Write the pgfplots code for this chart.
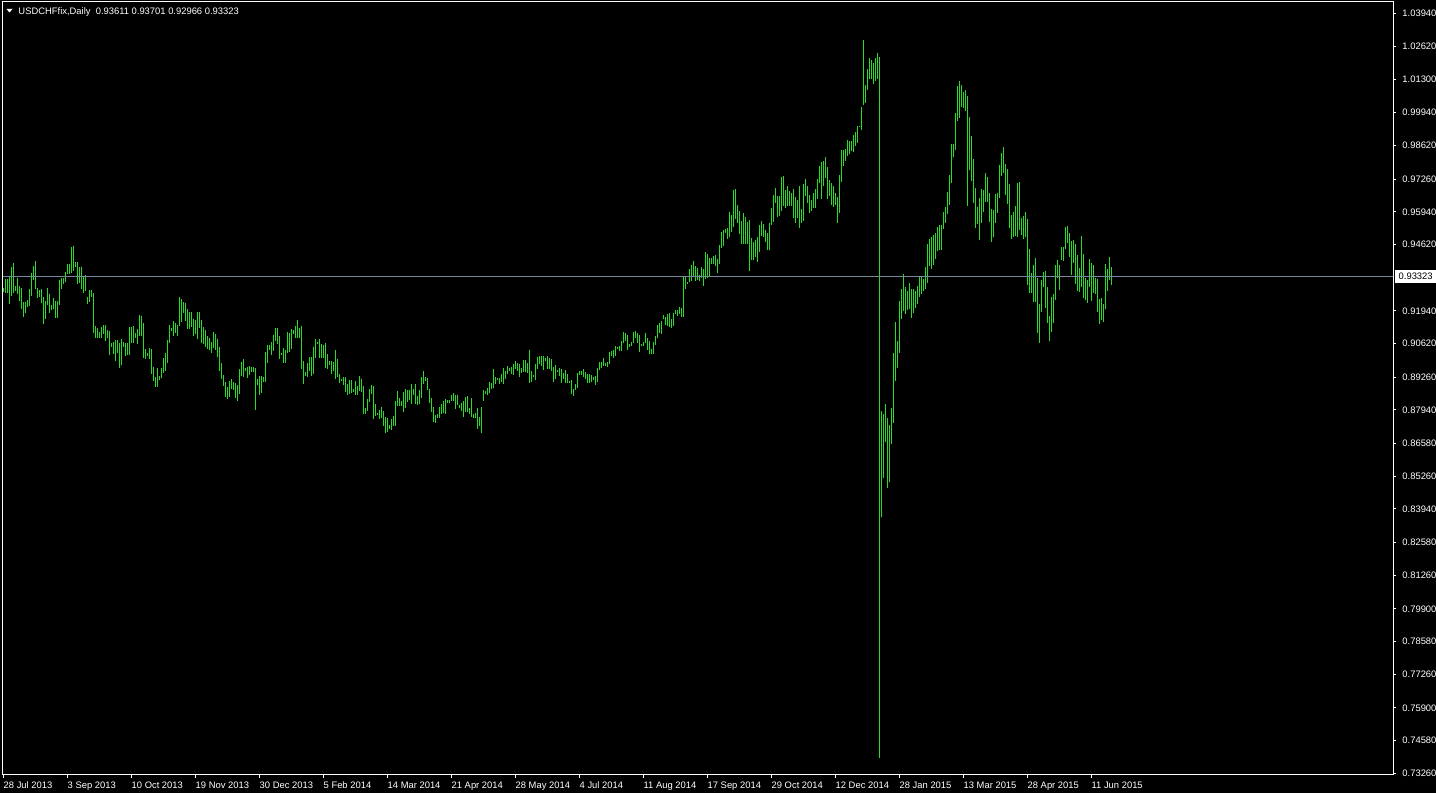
\documentclass[border=0pt]{standalone}
\usepackage{fontspec}
\setmainfont{Liberation Sans}
\usepackage{pgfplots}
\usepackage{pgfplotstable}
\pgfplotsset{compat=1.18}

\definecolor{barcol}{RGB}{40,220,40}
\definecolor{bidline}{RGB}{119,136,153}
\newcommand\mtfont{\fontsize{9.4bp}{11bp}\selectfont}

\begin{document}

% daily bars: index, low, high
\pgfplotstableread{
i lo hi
0 0.9271 0.9287
1 0.9267 0.9323
2 0.9267 0.9323
3 0.9222 0.9336
4 0.9255 0.9372
5 0.9267 0.9388
6 0.9275 0.9295
7 0.9263 0.9328
8 0.9235 0.9295
9 0.9202 0.9287
10 0.9170 0.9231
11 0.9186 0.9231
12 0.9210 0.9239
13 0.9214 0.9283
14 0.9255 0.9348
15 0.9319 0.9376
16 0.9283 0.9396
17 0.9247 0.9287
18 0.9251 0.9279
19 0.9227 0.9283
20 0.9142 0.9251
21 0.9162 0.9235
22 0.9218 0.9287
23 0.9186 0.9263
24 0.9198 0.9218
25 0.9202 0.9247
26 0.9166 0.9235
27 0.9166 0.9235
28 0.9218 0.9319
29 0.9283 0.9328
30 0.9303 0.9328
31 0.9311 0.9352
32 0.9344 0.9384
33 0.9344 0.9384
34 0.9348 0.9453
35 0.9356 0.9457
36 0.9372 0.9392
37 0.9303 0.9392
38 0.9307 0.9372
39 0.9283 0.9372
40 0.9267 0.9336
41 0.9275 0.9340
42 0.9222 0.9251
43 0.9231 0.9279
44 0.9251 0.9279
45 0.9105 0.9267
46 0.9085 0.9134
47 0.9085 0.9125
48 0.9085 0.9109
49 0.9085 0.9130
50 0.9101 0.9138
51 0.9073 0.9138
52 0.9085 0.9117
53 0.9016 0.9113
54 0.9049 0.9065
55 0.9020 0.9069
56 0.8992 0.9077
57 0.9024 0.9077
58 0.8964 0.9065
59 0.8976 0.9081
60 0.9049 0.9069
61 0.9012 0.9065
62 0.9016 0.9065
63 0.9016 0.9130
64 0.9065 0.9130
65 0.9065 0.9134
66 0.9085 0.9105
67 0.9061 0.9121
68 0.9093 0.9178
69 0.9093 0.9174
70 0.9004 0.9146
71 0.9000 0.9041
72 0.9012 0.9024
73 0.9000 0.9045
74 0.8940 0.9041
75 0.8911 0.8968
76 0.8887 0.8928
77 0.8887 0.8964
78 0.8915 0.8932
79 0.8924 0.8964
80 0.8944 0.9004
81 0.8952 0.9024
82 0.8984 0.9077
83 0.9065 0.9138
84 0.9113 0.9125
85 0.9093 0.9154
86 0.9105 0.9146
87 0.9093 0.9138
88 0.9134 0.9251
89 0.9150 0.9243
90 0.9186 0.9231
91 0.9154 0.9227
92 0.9121 0.9202
93 0.9121 0.9190
94 0.9130 0.9190
95 0.9093 0.9162
96 0.9101 0.9158
97 0.9081 0.9190
98 0.9125 0.9190
99 0.9065 0.9158
100 0.9061 0.9130
101 0.9049 0.9117
102 0.9041 0.9093
103 0.9037 0.9085
104 0.9024 0.9069
105 0.9045 0.9109
106 0.9037 0.9101
107 0.9008 0.9081
108 0.8952 0.9049
109 0.8920 0.8984
110 0.8891 0.8936
111 0.8847 0.8907
112 0.8839 0.8887
113 0.8847 0.8911
114 0.8879 0.8920
115 0.8875 0.8907
116 0.8843 0.8903
117 0.8831 0.8895
118 0.8859 0.8960
119 0.8932 0.8988
120 0.8928 0.9000
121 0.8952 0.8964
122 0.8924 0.8968
123 0.8936 0.8972
124 0.8948 0.8968
125 0.8948 0.8968
126 0.8794 0.8964
127 0.8895 0.8920
128 0.8855 0.8932
129 0.8863 0.8932
130 0.8907 0.8928
131 0.8907 0.9028
132 0.8984 0.9057
133 0.9037 0.9057
134 0.9016 0.9069
135 0.9033 0.9097
136 0.9073 0.9125
137 0.9061 0.9125
138 0.9000 0.9093
139 0.9016 0.9024
140 0.8984 0.9045
141 0.8984 0.9037
142 0.9024 0.9109
143 0.9028 0.9105
144 0.9041 0.9121
145 0.9101 0.9117
146 0.9085 0.9134
147 0.9085 0.9158
148 0.9085 0.9125
149 0.8960 0.9134
150 0.8899 0.8992
151 0.8932 0.8948
152 0.8928 0.8984
153 0.8952 0.9008
154 0.8932 0.9008
155 0.8940 0.9049
156 0.9004 0.9081
157 0.9061 0.9069
158 0.9004 0.9081
159 0.9004 0.9061
160 0.9004 0.9057
161 0.8964 0.9065
162 0.8960 0.9020
163 0.8976 0.8992
164 0.8940 0.8992
165 0.8952 0.8988
166 0.8920 0.9037
167 0.8928 0.9000
168 0.8903 0.8940
169 0.8911 0.8920
170 0.8895 0.8928
171 0.8867 0.8928
172 0.8855 0.8899
173 0.8859 0.8915
174 0.8863 0.8915
175 0.8867 0.8879
176 0.8855 0.8911
177 0.8855 0.8891
178 0.8871 0.8932
179 0.8867 0.8920
180 0.8778 0.8891
181 0.8778 0.8802
182 0.8790 0.8839
183 0.8827 0.8879
184 0.8859 0.8895
185 0.8758 0.8891
186 0.8770 0.8819
187 0.8774 0.8782
188 0.8758 0.8794
189 0.8762 0.8806
190 0.8730 0.8790
191 0.8701 0.8766
192 0.8705 0.8762
193 0.8717 0.8734
194 0.8713 0.8758
195 0.8730 0.8770
196 0.8730 0.8831
197 0.8810 0.8871
198 0.8810 0.8843
199 0.8810 0.8831
200 0.8786 0.8867
201 0.8802 0.8879
202 0.8827 0.8875
203 0.8835 0.8875
204 0.8819 0.8899
205 0.8855 0.8879
206 0.8819 0.8899
207 0.8815 0.8851
208 0.8819 0.8875
209 0.8843 0.8928
210 0.8899 0.8952
211 0.8911 0.8928
212 0.8875 0.8924
213 0.8823 0.8879
214 0.8786 0.8843
215 0.8746 0.8806
216 0.8742 0.8774
217 0.8762 0.8778
218 0.8762 0.8806
219 0.8778 0.8819
220 0.8782 0.8831
221 0.8778 0.8839
222 0.8823 0.8835
223 0.8823 0.8835
224 0.8831 0.8855
225 0.8831 0.8863
226 0.8798 0.8855
227 0.8815 0.8855
228 0.8802 0.8815
229 0.8790 0.8823
230 0.8766 0.8831
231 0.8786 0.8847
232 0.8786 0.8851
233 0.8778 0.8802
234 0.8766 0.8843
235 0.8762 0.8778
236 0.8762 0.8782
237 0.8717 0.8802
238 0.8730 0.8766
239 0.8701 0.8806
240 0.8831 0.8875
241 0.8859 0.8871
242 0.8855 0.8883
243 0.8863 0.8907
244 0.8879 0.8903
245 0.8883 0.8960
246 0.8899 0.8928
247 0.8915 0.8924
248 0.8899 0.8924
249 0.8907 0.8940
250 0.8899 0.8964
251 0.8920 0.8952
252 0.8940 0.8972
253 0.8952 0.8964
254 0.8940 0.8968
255 0.8936 0.8980
256 0.8960 0.8992
257 0.8952 0.8984
258 0.8928 0.8980
259 0.8944 0.8964
260 0.8948 0.8996
261 0.8948 0.8996
262 0.8944 0.8984
263 0.8903 0.9037
264 0.8907 0.8952
265 0.8928 0.8936
266 0.8915 0.8980
267 0.8960 0.9008
268 0.8980 0.9012
269 0.8972 0.9012
270 0.8956 0.9012
271 0.8992 0.9004
272 0.8960 0.9012
273 0.8960 0.9004
274 0.8952 0.9000
275 0.8907 0.8968
276 0.8920 0.8976
277 0.8948 0.8956
278 0.8932 0.8964
279 0.8903 0.8960
280 0.8920 0.8944
281 0.8903 0.8956
282 0.8903 0.8940
283 0.8903 0.8911
284 0.8859 0.8915
285 0.8851 0.8879
286 0.8875 0.8899
287 0.8883 0.8944
288 0.8936 0.8952
289 0.8936 0.8952
290 0.8928 0.8960
291 0.8920 0.8948
292 0.8903 0.8940
293 0.8903 0.8940
294 0.8907 0.8936
295 0.8915 0.8928
296 0.8895 0.8932
297 0.8907 0.8964
298 0.8956 0.8988
299 0.8964 0.8988
300 0.8972 0.9004
301 0.8972 0.8984
302 0.8968 0.8988
303 0.8980 0.9028
304 0.9012 0.9033
305 0.9004 0.9037
306 0.9012 0.9053
307 0.9041 0.9049
308 0.9033 0.9053
309 0.9033 0.9073
310 0.9065 0.9109
311 0.9073 0.9105
312 0.9037 0.9097
313 0.9049 0.9061
314 0.9053 0.9069
315 0.9065 0.9109
316 0.9085 0.9113
317 0.9065 0.9105
318 0.9028 0.9097
319 0.9053 0.9061
320 0.9053 0.9069
321 0.9065 0.9105
322 0.9037 0.9085
323 0.9020 0.9073
324 0.9020 0.9041
325 0.9020 0.9069
326 0.9057 0.9093
327 0.9085 0.9138
328 0.9105 0.9146
329 0.9101 0.9154
330 0.9162 0.9178
331 0.9138 0.9170
332 0.9134 0.9182
333 0.9130 0.9186
334 0.9125 0.9162
335 0.9134 0.9186
336 0.9182 0.9198
337 0.9174 0.9198
338 0.9182 0.9210
339 0.9170 0.9206
340 0.9170 0.9336
341 0.9283 0.9336
342 0.9303 0.9311
343 0.9311 0.9364
344 0.9315 0.9380
345 0.9332 0.9396
346 0.9315 0.9376
347 0.9319 0.9368
348 0.9315 0.9340
349 0.9328 0.9372
350 0.9295 0.9364
351 0.9323 0.9433
352 0.9328 0.9424
353 0.9332 0.9408
354 0.9384 0.9408
355 0.9384 0.9416
356 0.9376 0.9420
357 0.9348 0.9404
358 0.9384 0.9461
359 0.9449 0.9513
360 0.9457 0.9521
361 0.9509 0.9525
362 0.9485 0.9529
363 0.9493 0.9594
364 0.9513 0.9582
365 0.9534 0.9683
366 0.9566 0.9687
367 0.9550 0.9622
368 0.9505 0.9598
369 0.9465 0.9558
370 0.9465 0.9590
371 0.9465 0.9574
372 0.9465 0.9554
373 0.9356 0.9562
374 0.9400 0.9489
375 0.9400 0.9473
376 0.9412 0.9481
377 0.9392 0.9493
378 0.9433 0.9542
379 0.9497 0.9558
380 0.9493 0.9546
381 0.9473 0.9521
382 0.9441 0.9509
383 0.9441 0.9550
384 0.9542 0.9610
385 0.9554 0.9663
386 0.9631 0.9691
387 0.9574 0.9659
388 0.9578 0.9659
389 0.9598 0.9736
390 0.9618 0.9740
391 0.9610 0.9683
392 0.9618 0.9699
393 0.9618 0.9679
394 0.9618 0.9671
395 0.9570 0.9687
396 0.9550 0.9655
397 0.9570 0.9643
398 0.9529 0.9699
399 0.9550 0.9606
400 0.9558 0.9707
401 0.9659 0.9727
402 0.9631 0.9699
403 0.9590 0.9663
404 0.9598 0.9643
405 0.9610 0.9671
406 0.9610 0.9687
407 0.9647 0.9727
408 0.9711 0.9780
409 0.9647 0.9796
410 0.9699 0.9800
411 0.9731 0.9816
412 0.9647 0.9776
413 0.9659 0.9723
414 0.9622 0.9711
415 0.9614 0.9699
416 0.9622 0.9671
417 0.9550 0.9655
418 0.9590 0.9744
419 0.9715 0.9845
420 0.9780 0.9845
421 0.9800 0.9849
422 0.9820 0.9885
423 0.9828 0.9881
424 0.9841 0.9881
425 0.9836 0.9905
426 0.9861 0.9917
427 0.9873 0.9942
428 0.9938 0.9942
429 0.9925 1.0018
430 1.0027 1.0289
431 1.0035 1.0107
432 1.0087 1.0172
433 1.0131 1.0216
434 1.0131 1.0208
435 1.0111 1.0196
436 1.0123 1.0216
437 1.0131 1.0236
438 0.7388 1.0220
439 0.8362 0.8790
440 0.8520 0.8778
441 0.8665 0.8819
442 0.8479 0.8762
443 0.8503 0.8734
444 0.8657 0.8802
445 0.8742 0.9024
446 0.8911 0.9150
447 0.8964 0.9073
448 0.9024 0.9235
449 0.9162 0.9283
450 0.9194 0.9344
451 0.9182 0.9291
452 0.9198 0.9275
453 0.9202 0.9307
454 0.9166 0.9283
455 0.9186 0.9283
456 0.9206 0.9275
457 0.9222 0.9295
458 0.9251 0.9332
459 0.9263 0.9332
460 0.9275 0.9324
461 0.9283 0.9372
462 0.9307 0.9465
463 0.9376 0.9485
464 0.9364 0.9493
465 0.9380 0.9501
466 0.9404 0.9509
467 0.9437 0.9534
468 0.9441 0.9542
469 0.9441 0.9542
470 0.9525 0.9594
471 0.9550 0.9614
472 0.9586 0.9675
473 0.9622 0.9744
474 0.9711 0.9869
475 0.9816 0.9869
476 0.9845 0.9994
477 0.9962 1.0103
478 0.9974 1.0123
479 1.0018 1.0107
480 1.0014 1.0079
481 1.0002 1.0087
482 0.9618 1.0063
483 0.9764 0.9978
484 0.9719 0.9901
485 0.9631 0.9808
486 0.9529 0.9691
487 0.9546 0.9614
488 0.9481 0.9651
489 0.9550 0.9687
490 0.9594 0.9683
491 0.9635 0.9752
492 0.9635 0.9736
493 0.9554 0.9671
494 0.9473 0.9606
495 0.9493 0.9602
496 0.9550 0.9667
497 0.9590 0.9671
498 0.9651 0.9784
499 0.9740 0.9833
500 0.9752 0.9857
501 0.9663 0.9788
502 0.9626 0.9768
503 0.9529 0.9707
504 0.9485 0.9582
505 0.9493 0.9594
506 0.9497 0.9618
507 0.9493 0.9711
508 0.9521 0.9715
509 0.9501 0.9570
510 0.9485 0.9578
511 0.9493 0.9594
512 0.9299 0.9566
513 0.9267 0.9445
514 0.9267 0.9348
515 0.9231 0.9380
516 0.9231 0.9408
517 0.9105 0.9328
518 0.9065 0.9222
519 0.9190 0.9319
520 0.9291 0.9352
521 0.9206 0.9356
522 0.9146 0.9291
523 0.9073 0.9174
524 0.9109 0.9251
525 0.9146 0.9263
526 0.9239 0.9380
527 0.9328 0.9400
528 0.9279 0.9380
529 0.9400 0.9453
530 0.9396 0.9453
531 0.9445 0.9534
532 0.9469 0.9538
533 0.9412 0.9509
534 0.9340 0.9477
535 0.9388 0.9481
536 0.9303 0.9465
537 0.9275 0.9420
538 0.9271 0.9368
539 0.9291 0.9497
540 0.9247 0.9424
541 0.9239 0.9328
542 0.9227 0.9319
543 0.9291 0.9404
544 0.9235 0.9388
545 0.9267 0.9380
546 0.9263 0.9328
547 0.9190 0.9324
548 0.9142 0.9243
549 0.9158 0.9247
550 0.9150 0.9222
551 0.9202 0.9384
552 0.9275 0.9364
553 0.9319 0.9412
554 0.92966 0.93701
}\bars

\begin{tikzpicture}
\useasboundingbox (0,0) rectangle (1436bp,793bp);
\fill[black] (0,0) rectangle (1436bp,793bp);

\begin{axis}[
    at                 = {(2.5bp,18.5bp)},
    anchor             = south west,
    scale only axis,
    width              = 1391bp,
    height             = 773bp,
    xmin               = -0.5,
    xmax               = 695,
    ymin               = 0.73212,
    ymax               = 1.04433,
    axis line style    = {white, line width=1bp},
    tick style         = {white, line width=1bp},
    major tick length  = 3bp,
    tick align         = outside,
    xtick pos          = left,
    ytick pos          = right,
    xticklabel pos     = left,
    yticklabel pos     = right,
    minor tick num     = 0,
    xtick              = {0,32,...,544},
    xticklabels        = {28 Jul 2013, 3 Sep 2013, 10 Oct 2013, 19 Nov 2013, 30 Dec 2013, 5 Feb 2014, 14 Mar 2014, 21 Apr 2014, 28 May 2014, 4 Jul 2014, 11 Aug 2014, 17 Sep 2014, 29 Oct 2014, 12 Dec 2014, 28 Jan 2015, 13 Mar 2015, 28 Apr 2015, 11 Jun 2015},
    ytick              = {1.0394,1.0262,1.0130,0.9994,0.9862,0.9726,0.9594,0.9462,0.9194,0.9062,0.8926,0.8794,0.8658,0.8526,0.8394,0.8258,0.8126,0.7990,0.7858,0.7726,0.7590,0.7458,0.7326},
    yticklabels        = {1.03940,1.02620,1.01300,0.99940,0.98620,0.97260,0.95940,0.94620,0.91940,0.90620,0.89260,0.87940,0.86580,0.85260,0.83940,0.82580,0.81260,0.79900,0.78580,0.77260,0.75900,0.74580,0.73260},
    ticklabel style    = {font=\mtfont, text=white, inner sep=0pt},
    xticklabel style   = {anchor=base west, yshift=-11bp},
    yticklabel style   = {anchor=west, xshift=5.8bp},
    /pgf/number format/assume math mode=true,
]

    \addplot [draw=none, mark=none, forget plot,
        error bars/.cd, y dir=plus, y explicit, error mark=none,
        error bar style={draw=barcol, line width=1bp}]
        table [x=i, y=lo, y error expr=\thisrow{hi}-\thisrow{lo}] {\bars};

    \addplot [bidline, line width=1bp, forget plot] coordinates {(-0.5,0.93323) (695,0.93323)};
    \coordinate (bid) at (axis cs:695,0.93323);
\end{axis}

\node [anchor=west, fill=white, text=black, inner sep=0pt, minimum height=13bp, minimum width=41bp, font=\mtfont, xshift=1.5bp] at (bid) {0.93323};
\fill[white] (6.5bp,784bp) -- (12.5bp,784bp) -- (9.5bp,780.5bp) -- cycle;
\node [anchor=base west, text=white, inner sep=0pt, font=\mtfont] at (18.3bp,778.7bp) {USDCHFfix,Daily\ \ 0.93611 0.93701 0.92966 0.93323};
\end{tikzpicture}

\end{document}
